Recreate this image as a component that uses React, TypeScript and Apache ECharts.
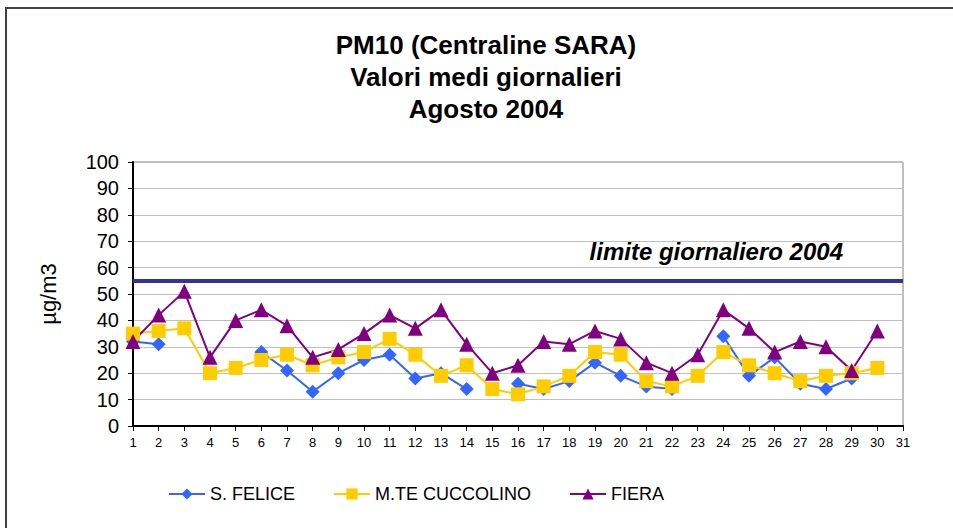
import React, { useEffect, useRef } from "react";
import * as echarts from "echarts";

const days = ["1","2","3","4","5","6","7","8","9","10","11","12","13","14","15","16","17","18","19","20","21","22","23","24","25","26","27","28","29","30","31"];

const sFelice = [32, 31, null, null, null, 28, 21, 13, 20, 25, 27, 18, 20, 14, null, 16, 14, 17, 24, 19, 15, 14, null, 34, 19, 26, 16, 14, 18, null, null];
const cuccolino = [35, 36, 37, 20, 22, 25, 27, 23, 26, 28, 33, 27, 19, 23, 14, 12, 15, 19, 28, 27, 17, 15, 19, 28, 23, 20, 17, 19, 20, 22, null];
const fiera = [32, 42, 51, 26, 40, 44, 38, 26, 29, 35, 42, 37, 44, 31, 20, 23, 32, 31, 36, 33, 24, 20, 27, 44, 37, 28, 32, 30, 21, 36, null];

const limitValue = 55;
const limitLabel = "limite giornaliero 2004";
const titleLines = ["PM10 (Centraline SARA)", "Valori medi giornalieri", "Agosto 2004"];
const yAxisName = "µg/m3";

const FONT = "'Liberation Sans', Arial, sans-serif";

export default function App() {
  const ref = useRef<HTMLDivElement>(null);
  useEffect(() => {
    if (!ref.current) return;
    const chart = echarts.init(ref.current, undefined, { renderer: "svg" });
    chart.setOption({
      animation: false,
      backgroundColor: "#ffffff",
      textStyle: { fontFamily: FONT, color: "#000" },
      graphic: [
        {
          type: "rect",
          shape: { x: 6, y: 8, width: 1000, height: 600 },
          style: { fill: "none", stroke: "#404040", lineWidth: 2 },
          silent: true,
        },
        ...titleLines.map((t, i) => ({
          type: "text",
          x: 486,
          y: 45 + i * 32,
          style: {
            text: t,
            fill: "#000",
            font: `bold 26px ${FONT}`,
            textAlign: "center",
            textVerticalAlign: "middle",
          },
        })),
        {
          type: "text",
          x: 843,
          y: 251,
          style: {
            text: limitLabel,
            fill: "#000",
            font: `italic bold 24px ${FONT}`,
            textAlign: "right",
            textVerticalAlign: "middle",
          },
        },
      ],
      grid: {
        left: 133,
        top: 162,
        right: 50,
        bottom: 102,
        show: true,
        borderColor: "#808080",
        borderWidth: 1,
      },
      legend: {
        left: 163,
        top: 480,
        itemWidth: 36,
        itemHeight: 14,
        itemGap: 38,
        textStyle: { fontSize: 18, color: "#000", fontFamily: FONT },
        data: ["S. FELICE", "M.TE CUCCOLINO", "FIERA"],
      },
      xAxis: {
        type: "category",
        data: days,
        boundaryGap: false,
        axisLine: { lineStyle: { color: "#000", width: 2 } },
        axisTick: { show: true, length: 5, interval: 0, lineStyle: { color: "#000" } },
        axisLabel: { interval: 0, fontSize: 13, color: "#000", margin: 10, fontFamily: FONT },
        splitLine: { show: false },
      },
      yAxis: {
        type: "value",
        min: 0,
        max: 100,
        interval: 10,
        name: yAxisName,
        nameLocation: "middle",
        nameGap: 74,
        nameRotate: 90,
        nameTextStyle: { fontSize: 22, color: "#000", fontFamily: FONT },
        axisLine: { show: true, lineStyle: { color: "#000", width: 2 } },
        axisTick: { show: true, length: 5, lineStyle: { color: "#000" } },
        axisLabel: { fontSize: 20, color: "#000", margin: 14, fontFamily: FONT },
        splitLine: { show: true, lineStyle: { color: "#c0c0c0", width: 1 } },
      },
      series: [
        {
          name: "S. FELICE",
          type: "line",
          data: sFelice,
          symbol: "diamond",
          symbolSize: 14,
          connectNulls: false,
          itemStyle: { color: "#3366FF" },
          lineStyle: { color: "#3366FF", width: 2 },
          markLine: {
            silent: true,
            symbol: "none",
            label: { show: false },
            lineStyle: { color: "#333399", width: 4, type: "solid" },
            data: [{ yAxis: limitValue }],
          },
        },
        {
          name: "M.TE CUCCOLINO",
          type: "line",
          data: cuccolino,
          symbol: "rect",
          symbolSize: 14,
          itemStyle: { color: "#FFCC00" },
          lineStyle: { color: "#FFCC00", width: 2 },
        },
        {
          name: "FIERA",
          type: "line",
          data: fiera,
          symbol: "triangle",
          symbolSize: 15,
          itemStyle: { color: "#800080" },
          lineStyle: { color: "#800080", width: 2 },
        },
      ],
    });
    return () => chart.dispose();
  }, []);
  return <div ref={ref} style={{ width: 953, height: 528, position: "absolute", left: 0, top: 0 }} />;
}
